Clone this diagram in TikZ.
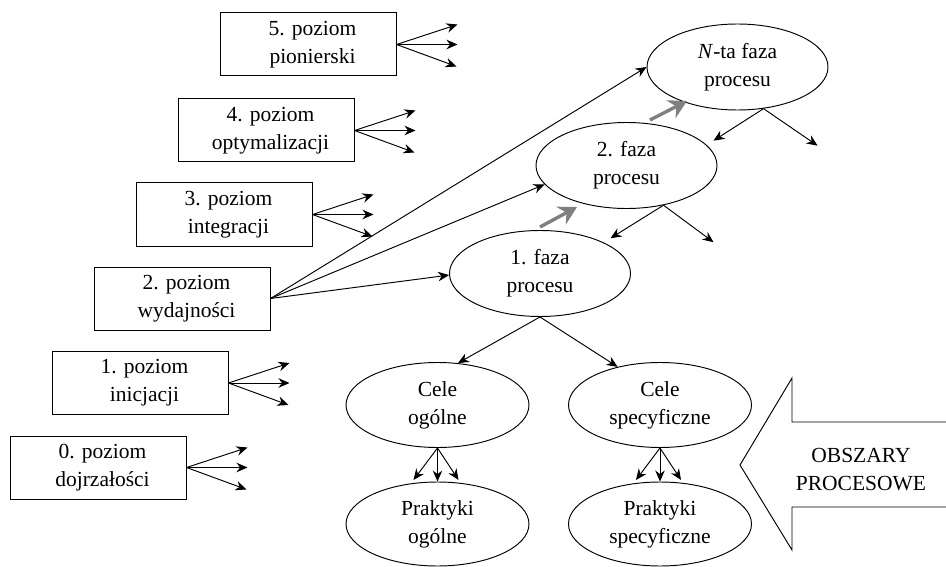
\documentclass[tikz,border=0pt]{standalone}
\usepackage{fontspec}
\setmainfont{Liberation Serif}
\usetikzlibrary{arrows.meta,shapes.geometric}
% two-line label nudged slightly to the right inside a level box
\newcommand{\lvltext}[2]{\hspace*{9pt}#1\\\hspace*{9pt}#2}
\begin{document}
\begin{tikzpicture}[x=1pt,y=-1pt,
  font=\fontsize{21.5}{28}\selectfont,
  lvlbox/.style={draw,line width=1pt,rectangle,minimum width=176pt,minimum height=63pt,inner sep=0pt,align=center},
  oval/.style={draw,line width=0.95pt,ellipse,minimum width=181pt,minimum height=86pt,inner sep=0pt,align=center},
  arr/.style={line width=0.95pt,-{Stealth[length=11pt,width=9.5pt]}},
  step arrow/.style={draw=black!50,line width=3.4pt,-{Stealth[length=18pt,width=20pt,inset=6pt]}}]
\useasboundingbox (0,0) rectangle (946,567);

% maturity levels
\node[lvlbox] (b5) at (308,44.5)  {\lvltext{5. poziom}{pionierski}};
\node[lvlbox] (b4) at (266,130.5) {\lvltext{4. poziom}{optymalizacji}};
\node[lvlbox] (b3) at (224,214.5) {\lvltext{3. poziom}{integracji}};
\node[lvlbox] (b2) at (182,298.5) {\lvltext{2. poziom}{wydajności}};
\node[lvlbox] (b1) at (140,383)   {\lvltext{1. poziom}{inicjacji}};
\node[lvlbox] (b0) at (98,467.5)  {\lvltext{0. poziom}{dojrzałości}};

% process phases
\node[oval] (nt) at (737.5,67)    {\textit{N}-ta faza\\procesu};
\node[oval] (f2) at (626.5,165.5) {2. faza\\procesu};
\node[oval] (f1) at (540,273.5)   {1. faza\\procesu};

% goals and practices
\node[oval,minimum width=183pt,minimum height=85pt] (co) at (437.5,405) {Cele\\ogólne};
\node[oval,minimum width=183pt,minimum height=85pt] (cs) at (660,405)   {Cele\\specyficzne};
\node[oval,minimum width=183pt,minimum height=84pt] (po) at (437.5,524) {Praktyki\\ogólne};
\node[oval,minimum width=183pt,minimum height=84pt] (ps) at (660,524)   {Praktyki\\specyficzne};

% fans of arrows leaving the levels
\foreach \b in {b5,b4,b3,b1,b0}{
  \draw[arr] (\b.east) -- ++(61,-20);
  \draw[arr] (\b.east) -- ++(61,0);
  \draw[arr] (\b.east) -- ++(60,22);
}
\draw[arr] (b2.east) -- (nt.west);
\draw[arr] (b2.east) -- (f2.193);
\draw[arr] (b2.east) -- (f1.181);

% arrows leaving the phases
\draw[arr] (nt.-58) -- ++(-50,32);
\draw[arr] (nt.-58) -- ++(54,37);
\draw[arr] (f2.-47) -- ++(-53,33);
\draw[arr] (f2.-47) -- ++(50,37);
\draw[arr] (f1.south) -- (co.64);
\draw[arr] (f1.south) -- (cs.138);

% goals to practices
\draw[arr] (co.south) -- ++(-24,32);
\draw[arr] (co.south) -- (po.north);
\draw[arr] (co.south) -- ++(21,32);
\draw[arr] (cs.south) -- ++(-24,32);
\draw[arr] (cs.south) -- (ps.north);
\draw[arr] (cs.south) -- ++(21,32);

% progression between phases
\coordinate (g1a) at (540,227);
\coordinate (g1b) at (577,207);
\coordinate (g2a) at (650,120);
\coordinate (g2b) at (687,101);
\draw[step arrow] (g1a) -- (g1b);
\draw[step arrow] (g2a) -- (g2b);

% process areas block arrow
\draw[line width=0.95pt,line join=miter] (946,422) -- (792,422) -- (792,378) -- (740,465)
  -- (792,550) -- (792,507) -- (946,507);
\node[align=center] (obs) at (861,470) {OBSZARY\\PROCESOWE};
\end{tikzpicture}
\end{document}
